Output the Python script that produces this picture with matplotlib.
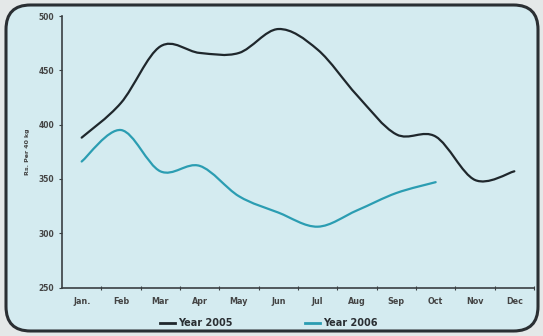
import numpy as np
import matplotlib.pyplot as plt
from matplotlib.path import Path
from matplotlib.patches import PathPatch, FancyBboxPatch
from matplotlib.lines import Line2D

# ============================================================
# Data
# ============================================================
months = ["Jan.", "Feb", "Mar", "Apr", "May", "Jun",
          "Jul", "Aug", "Sep", "Oct", "Nov", "Dec"]
year_2005 = [388, 420, 472, 466, 466, 488, 469, 427, 391, 389, 349, 357]
year_2006 = [366, 395, 357, 362, 334, 319, 306, 321, 337, 347]
y_ticks = [250, 300, 350, 400, 450, 500]

COL_2005 = "#1f272c"
COL_2006 = "#2b9db2"
BG_IN = "#d4ebf0"
BG_OUT = "#e4e8e8"


def smooth_path(xs, ys):
    # Excel-like smoothed line: Catmull-Rom turned into cubic Bezier segments
    pts = np.column_stack([xs, ys]).astype(float)
    n = len(pts)
    verts = [pts[0]]
    codes = [Path.MOVETO]
    for i in range(n - 1):
        p0 = pts[max(i - 1, 0)]
        p1 = pts[i]
        p2 = pts[i + 1]
        p3 = pts[min(i + 2, n - 1)]
        c1 = p1 + (p2 - p0) / 6.0
        c2 = p2 - (p3 - p1) / 6.0
        verts += [c1, c2, p2]
        codes += [Path.CURVE4] * 3
    return Path(verts, codes)


fig = plt.figure(figsize=(5.43, 3.36), dpi=100)
fig.patch.set_facecolor(BG_OUT)

# rounded frame, kept behind the axes
frame = FancyBboxPatch((6 / 543, 5 / 336), 532 / 543, 326 / 336,
                       boxstyle="round,pad=0,rounding_size=0.045",
                       transform=fig.transFigure, facecolor=BG_IN,
                       edgecolor="#2a2f33", linewidth=2.2,
                       mutation_aspect=543 / 336, zorder=-10)
fig.add_artist(frame)

ax = fig.add_axes([62 / 543, (336 - 287.5) / 336,
                   (534 - 62) / 543, (287.5 - 16) / 336])
ax.set_facecolor("none")
ax.set_zorder(2)

for ys, col in [(year_2005, COL_2005), (year_2006, COL_2006)]:
    xs = np.arange(len(ys))
    ax.add_patch(PathPatch(smooth_path(xs, ys), facecolor="none",
                           edgecolor=col, linewidth=1.6,
                           capstyle="round", joinstyle="round"))

ax.set_xlim(-0.5, 11.5)
ax.set_ylim(250, 500)

for side in ["top", "right"]:
    ax.spines[side].set_visible(False)
for side in ["left", "bottom"]:
    ax.spines[side].set_color("#3a3f42")
    ax.spines[side].set_linewidth(1.2)

ax.set_yticks(y_ticks)
ax.set_yticklabels([str(v) for v in y_ticks], fontsize=5.5,
                   fontweight="bold", color="#444444")
ax.tick_params(axis="y", length=2.5, width=0.8, pad=3, color="#3a3f42")

ax.set_xticks(np.arange(len(months)))
ax.set_xticklabels(months, fontsize=5.8, fontweight="bold", color="#444444")
ax.tick_params(axis="x", which="major", length=0, pad=7)
ax.set_xticks(np.arange(len(months)) + 0.5, minor=True)
ax.tick_params(axis="x", which="minor", length=2.5, width=0.8,
               direction="inout", color="#3a3f42")

ax.set_ylabel("Rs. Per 40 kg", fontsize=4.5, fontweight="bold",
              color="#444444", labelpad=6)

# legend
handles = [Line2D([], [], color=COL_2005, linewidth=2),
           Line2D([], [], color=COL_2006, linewidth=2)]
leg = fig.legend(handles, ["Year 2005", "Year 2006"], loc="center",
                 bbox_to_anchor=(0.495, (336 - 323) / 336), ncol=2,
                 frameon=False, handlelength=1.5, handletextpad=0.3,
                 columnspacing=7.5,
                 prop={"size": 7, "weight": "bold"})
for t in leg.get_texts():
    t.set_color("#2a2f33")

fig.savefig("out.png", dpi=100, facecolor=fig.get_facecolor())
